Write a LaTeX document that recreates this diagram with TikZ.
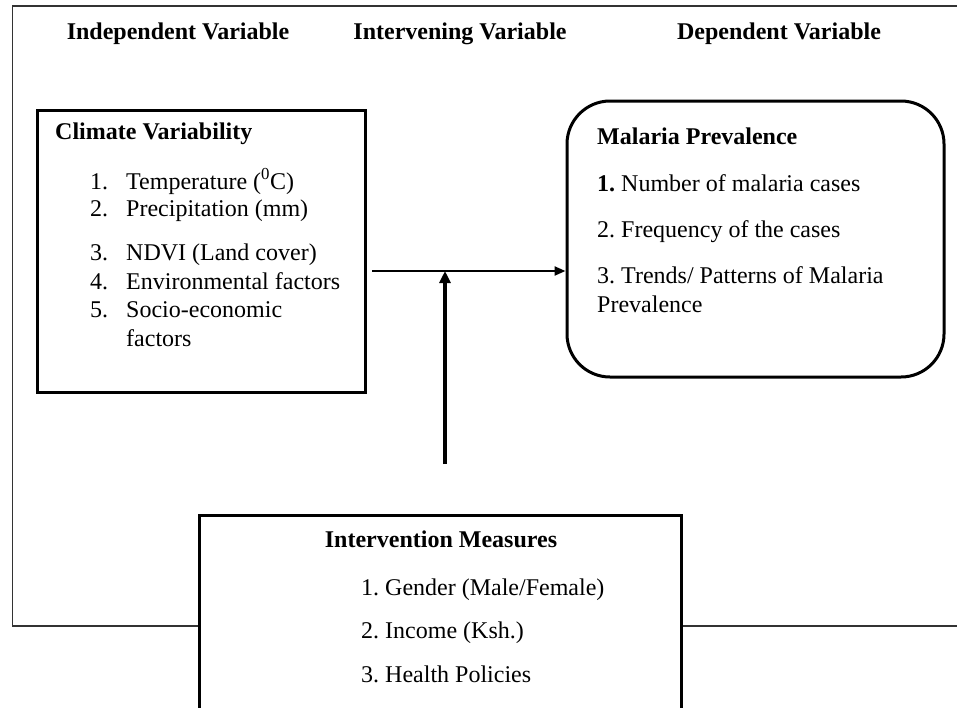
\documentclass[tikz,border=0pt]{standalone}
\usepackage{fontspec}
\setmainfont{Liberation Serif}
\usetikzlibrary{arrows.meta}
\begin{document}
\frenchspacing
\begin{tikzpicture}[x=1pt,y=-1pt,
  txt/.style={anchor=base west, inner sep=0pt, font=\fontsize{24}{29}\selectfont},
  hdr/.style={anchor=base, inner sep=0pt, font=\fontsize{24}{29}\selectfont\bfseries},
  ttl/.style={anchor=base west, inner sep=0pt, font=\fontsize{24}{29}\selectfont\bfseries},
  boxed/.style={draw=black, line width=3pt, inner sep=0pt},
  framed/.style={draw=black!80, line width=1.8pt, inner sep=0pt},
  harr/.style={draw=black, line width=2.2pt, -{Triangle[length=11pt,width=9pt]}},
  varr/.style={draw=black, line width=3.4pt, -{Triangle[length=12pt,width=11pt]}}
]
\useasboundingbox (0,0) rectangle (957,707);
\clip (0,0) rectangle (957,707);
\fill[white] (0,0) rectangle (957,707);

% outer frame
\node[framed, minimum width=1000pt, minimum height=620pt] (frame) at (512.5,316) {};

% headers
\node[hdr] (h1) at (178,39) {Independent Variable};
\node[hdr] (h2) at (460,39) {Intervening Variable};
\node[hdr] (h3) at (779,39) {Dependent Variable};

% climate box
\node[boxed, minimum width=328pt, minimum height=282pt] (clim) at (201,251) {};
\node[ttl] (ct) at (55,139) {Climate Variability};
\node[txt] (c1n) at (90,189) {1.};
\node[txt] (c1) at (126,189) {Temperature (\textsuperscript{0}C)};
\node[txt] (c2n) at (90,216) {2.};
\node[txt] (c2) at (126,216) {Precipitation (mm)};
\node[txt] (c3n) at (90,260) {3.};
\node[txt] (c3) at (126,260) {NDVI (Land cover)};
\node[txt] (c4n) at (90,289) {4.};
\node[txt] (c4) at (126,289) {Environmental factors};
\node[txt] (c5n) at (90,317) {5.};
\node[txt] (c5) at (126,317) {Socio-economic};
\node[txt] (c6) at (126,346) {factors};

% malaria box
\node[boxed, rounded corners=43pt, minimum width=377pt, minimum height=276pt] (mal) at (755.5,239) {};
\node[ttl] (mt) at (597,144) {Malaria Prevalence};
\node[txt] (m1) at (597,191) {\textbf{1.} Number of malaria cases};
\node[txt] (m2) at (597,237) {2. Frequency of the cases};
\node[txt] (m3) at (597,283) {3. Trends/ Patterns of Malaria};
\node[txt] (m4) at (597,312) {Prevalence};

% intervention box
\node[boxed, fill=white, minimum width=482pt, minimum height=240pt] (int) at (440,635) {};
\node[hdr] (it) at (441,547) {Intervention Measures};
\node[txt] (i1) at (361,595) {1. Gender (Male/Female)};
\node[txt] (i2) at (361,638) {2. Income (Ksh.)};
\node[txt] (i3) at (361,682) {3. Health Policies};

% arrows
\coordinate (h0) at (372,271);
\draw[harr] (h0) -- (h0 -| mal.west);
\coordinate (v0) at (445,464);
\draw[varr] (v0) -- (v0 |- h0);
\end{tikzpicture}
\end{document}
